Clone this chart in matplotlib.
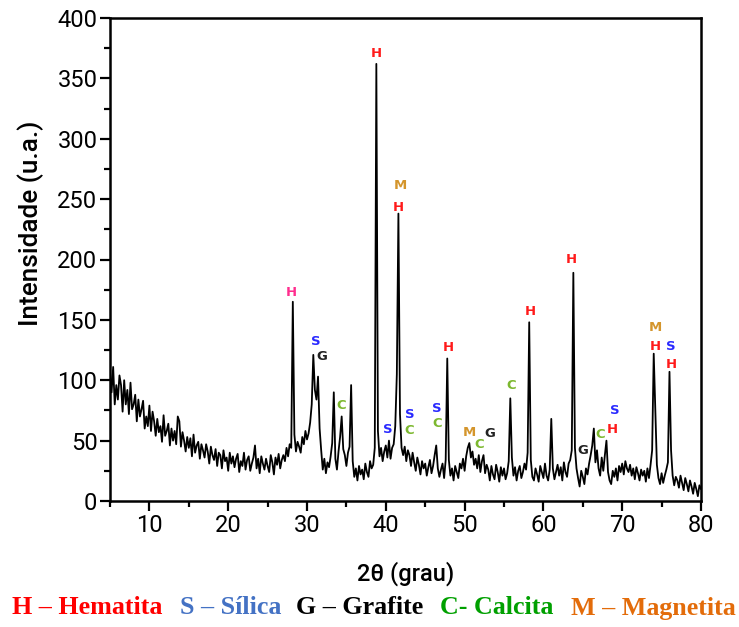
import numpy as np
import matplotlib
matplotlib.use("Agg")
import matplotlib.pyplot as plt
from matplotlib.ticker import MultipleLocator

# ---------------- data ----------------
two_theta_start, two_theta_end = 5.0, 80.0
intensity = [
    107, 90, 111, 80, 96, 84, 104, 96, 74, 100,       # 5.0 - 6.8
    80, 92, 72, 98, 76, 80, 88, 66, 84, 70,           # 7.0 - 8.8
    76, 83, 60, 70, 62, 79, 58, 74, 66, 54,           # 9.0 - 10.8
    68, 57, 62, 49, 71, 54, 58, 64, 46, 60,           # 11.0 - 12.8
    50, 58, 47, 70, 66, 45, 57, 50, 41, 53,           # 13.0 - 14.8
    44, 52, 37, 55, 40, 46, 49, 35, 47, 42,           # 15.0 - 16.8
    36, 47, 41, 31, 45, 38, 34, 43, 29, 40,           # 17.0 - 18.8
    38, 27, 42, 33, 36, 25, 40, 31, 37, 28,           # 19.0 - 20.8
    35, 39, 24, 33, 29, 40, 26, 34, 37, 25,           # 21.0 - 22.8
    31, 36, 46, 27, 35, 23, 37, 31, 26, 35,           # 23.0 - 24.8
    29, 24, 38, 32, 22, 36, 30, 39, 27, 34,           # 25.0 - 26.8
    38, 33, 44, 37, 47, 44, 165, 55, 41, 49,          # 27.0 - 28.8
    45, 40, 53, 47, 58, 51, 56, 65, 80, 121,          # 29.0 - 30.8
    92, 84, 103, 60, 42, 26, 35, 23, 32, 28,          # 31.0 - 32.8
    37, 48, 90, 35, 26, 41, 53, 70, 43, 38,           # 33.0 - 34.8
    29, 40, 45, 96, 33, 20, 27, 17, 29, 22,           # 35.0 - 36.8
    26, 18, 31, 24, 20, 33, 27, 30, 44, 362,          # 37.0 - 38.8
    58, 37, 44, 33, 41, 46, 36, 50, 35, 44,           # 39.0 - 40.8
    47, 62, 105, 238, 72, 44, 38, 45, 33, 42,         # 41.0 - 42.8
    38, 29, 40, 32, 25, 36, 30, 22, 33, 27,           # 43.0 - 44.8
    31, 21, 28, 34, 23, 29, 38, 46, 27, 20,           # 45.0 - 46.8
    26, 31, 19, 34, 118, 34, 21, 27, 17, 29,          # 47.0 - 48.8
    24, 19, 31, 27, 35, 25, 37, 44, 48, 36,           # 49.0 - 50.8
    41, 30, 35, 27, 38, 24, 33, 38, 23, 30,           # 51.0 - 52.8
    26, 17, 29, 22, 18, 30, 24, 16, 28, 21,           # 53.0 - 54.8
    27, 18, 23, 33, 85, 36, 21, 28, 17, 25,           # 55.0 - 56.8
    29, 19, 24, 31, 26, 40, 148, 34, 20, 17,          # 57.0 - 58.8
    27, 22, 16, 29, 24, 19, 31, 21, 17, 26,           # 59.0 - 60.8
    68, 27, 18, 24, 30, 21, 28, 17, 32, 24,           # 61.0 - 62.8
    20, 31, 34, 42, 189, 44, 27, 19, 12, 25,          # 63.0 - 64.8
    20, 14, 27, 22, 31, 38, 46, 60, 32, 42,           # 65.0 - 66.8
    27, 21, 36, 25, 38, 50, 24, 17, 14, 25,           # 67.0 - 68.8
    20, 27, 17, 29, 24, 31, 22, 33, 27, 24,           # 69.0 - 70.8
    30, 21, 27, 18, 28, 23, 17, 26, 21, 25,           # 71.0 - 72.8
    16, 27, 19, 30, 42, 122, 75, 30, 19, 14,          # 73.0 - 74.8
    23, 15, 21, 26, 32, 107, 42, 21, 13, 20,          # 75.0 - 76.8
    17, 11, 21, 15, 9, 19, 14, 8, 17, 12,             # 77.0 - 78.8
    6, 15, 10, 4, 13, 10,                             # 79.0 - 80.0
]

# peak labels: letter, 2theta position, intensity position
label_letters = ["H", "S", "G", "C", "H", "M", "H", "S", "S", "C", "S", "C", "H",
                 "M", "C", "G", "C", "H", "H", "G", "C", "H", "S", "M", "H", "S", "H"]
label_x = [28.05, 31.1, 31.9, 34.4, 38.76, 41.9, 41.6, 40.3, 43.0, 43.0, 46.5, 46.5, 47.9,
           50.65, 51.9, 53.2, 55.9, 58.3, 63.5, 65.0, 67.2, 68.7, 69.1, 74.2, 74.2, 76.2, 76.2]
label_y = [173, 132, 120, 79, 371, 261, 243, 59, 72, 58, 77, 64, 127,
           57, 47, 56, 96, 157, 200, 42, 55, 59, 75, 144, 128, 128, 113]

phase_colors = {"H": "#ff1a1a", "S": "#2a2aff", "G": "#222222", "C": "#7cb82f", "M": "#d4952c"}
first_h_color = "#ff2d8e"

legend_parts = ["H \u2013 Hematita", "S \u2013 S\u00edlica", "G \u2013 Grafite", "C- Calcita", "M \u2013 Magnetita"]
legend_colors = ["#ff0000", "#4472c4", "#000000", "#00a000", "#e36c0a"]
legend_x_px = [12, 180, 296, 440, 571]

x_ticks = [10, 20, 30, 40, 50, 60, 70, 80]
y_ticks = [0, 50, 100, 150, 200, 250, 300, 350, 400]

# ---------------- figure ----------------
W, H = 739, 627
fig = plt.figure(figsize=(W / 100, H / 100), dpi=100)
ax = fig.add_axes([110 / W, 1 - 501 / H, (701 - 110) / W, (501 - 18) / H])

n = len(intensity)
two_theta = np.linspace(two_theta_start, two_theta_end, n)
ax.plot(two_theta, intensity, color="black", lw=1.3)

ax.set_xlim(5, 80)
ax.set_ylim(0, 400)
ax.set_xticks(x_ticks)
ax.set_yticks(y_ticks)
ax.xaxis.set_minor_locator(MultipleLocator(5))
ax.yaxis.set_minor_locator(MultipleLocator(25))

for lab in ax.get_xticklabels() + ax.get_yticklabels():
    lab.set_fontfamily("Roboto")
    lab.set_fontsize(17)
ax.tick_params(which="major", direction="out", length=7, width=1.6, pad=2)
ax.tick_params(which="minor", direction="out", length=4, width=1.6)
for sp in ax.spines.values():
    sp.set_linewidth(1.8)

ax.set_xlabel("2\u03b8 (grau)", fontfamily="Roboto", fontsize=17, fontweight="medium")
ax.xaxis.set_label_coords(0.5, -0.125)
ax.set_ylabel("Intensidade (u.a.)", fontfamily="Roboto", fontsize=18.8, fontweight="medium")
ax.yaxis.set_label_coords(-0.112, 0.575)

for i, (letter, lx, ly) in enumerate(zip(label_letters, label_x, label_y)):
    col = first_h_color if i == 0 else phase_colors[letter]
    ax.text(lx, ly, letter, color=col, fontsize=9.5, fontweight="bold", fontfamily="DejaVu Sans",
            ha="center", va="center")

for txt, col, xp in zip(legend_parts, legend_colors, legend_x_px):
    fig.text(xp / W, 1 - 608 / H, txt, color=col, fontsize=18.7, fontweight="bold",
             fontfamily="Liberation Serif", ha="left", va="center")

fig.savefig("out.png", dpi=100)
